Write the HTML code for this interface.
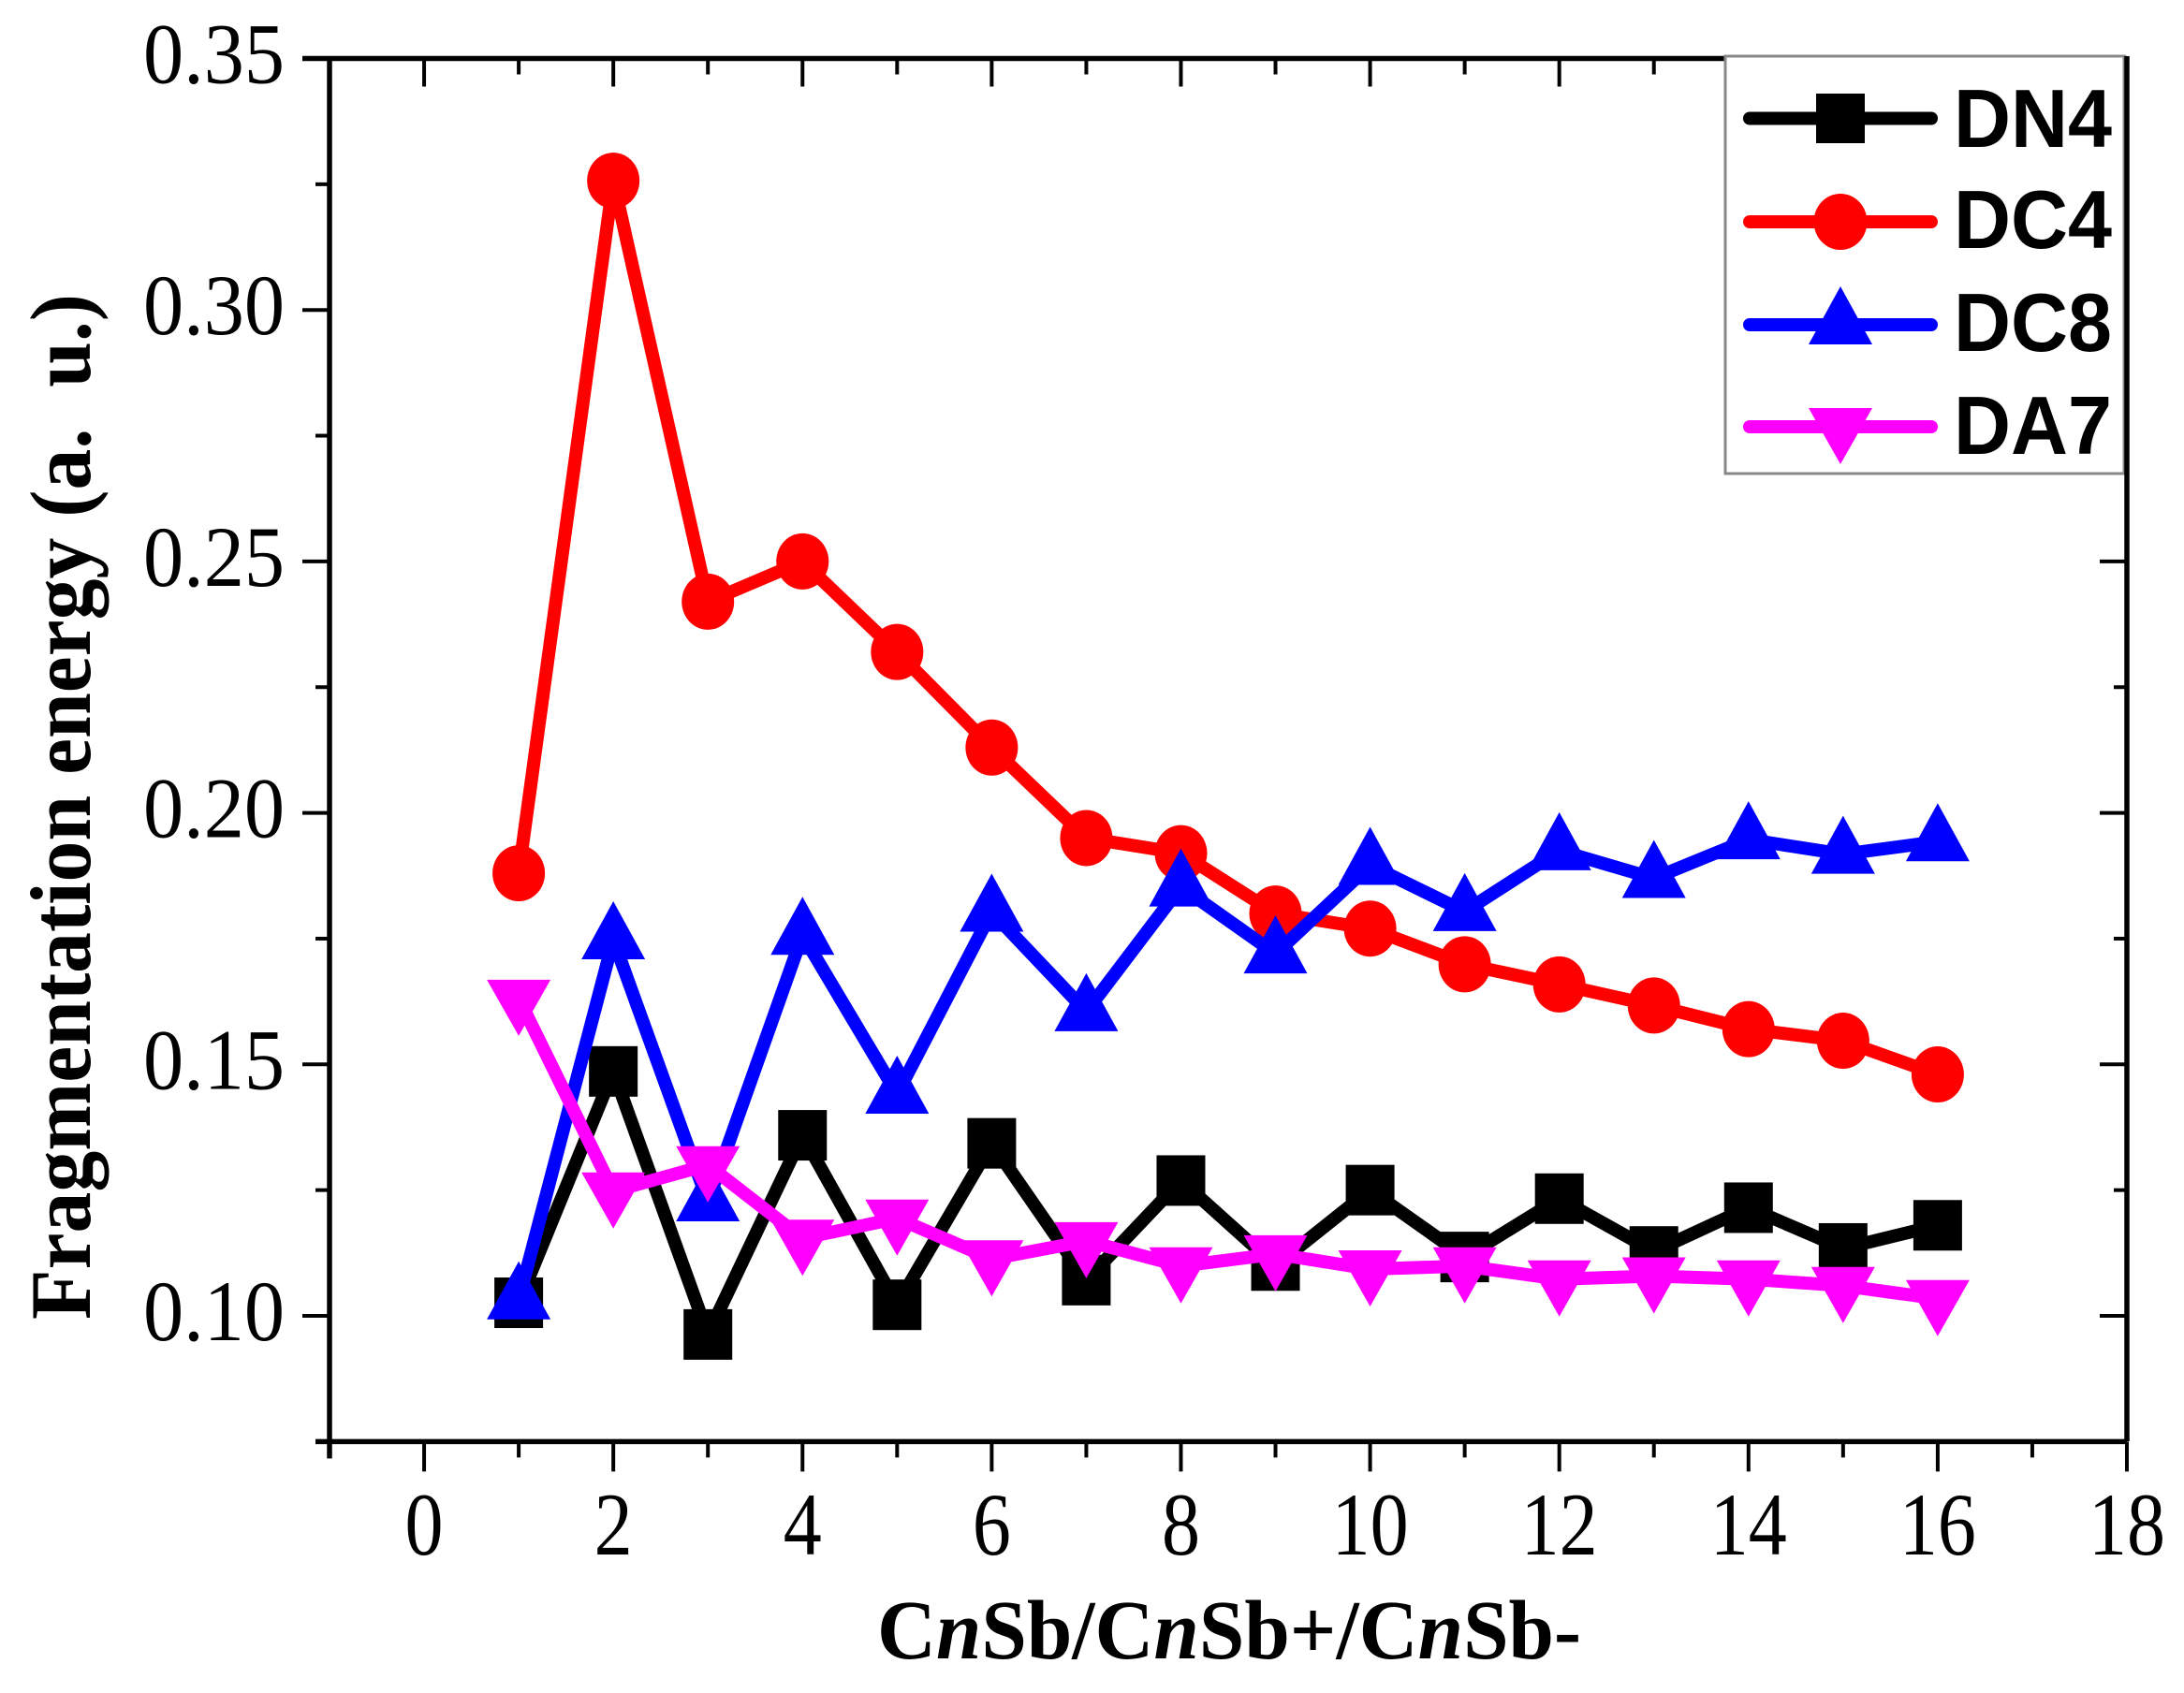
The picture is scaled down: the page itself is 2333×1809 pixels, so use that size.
<!DOCTYPE html>
<html lang="en">
<head>
<meta charset="utf-8">
<title>Fragmentation energy chart</title>
<style>
html,body{margin:0;padding:0;background:#fff;}
svg{display:block;}
text{fill:#000;}
.serif{font-family:"Liberation Serif",serif;}
.sans{font-family:"Liberation Sans",sans-serif;font-weight:bold;}
</style>
</head>
<body>
<svg id="chart" xmlns="http://www.w3.org/2000/svg" width="2333" height="1809" viewBox="0 0 2333 1809">
  <rect x="0" y="0" width="2333" height="1809" fill="#fff"/>
  <g id="axes"></g>
  <g id="plot"></g>
  <text class="serif" transform="translate(96,1410) rotate(-90)" font-size="92" font-weight="bold" textLength="1096" lengthAdjust="spacingAndGlyphs">Fragmentation energy (a.&#160; u.)</text>
  <text class="serif" x="937" y="1772" font-size="90" font-weight="bold" textLength="752" lengthAdjust="spacingAndGlyphs">C<tspan font-style="italic">n</tspan>Sb/C<tspan font-style="italic">n</tspan>Sb+/C<tspan font-style="italic">n</tspan>Sb-</text>
  <g>
    <rect x="1843" y="60" width="426" height="446" fill="#fff" stroke="#888" stroke-width="3"/>
    <g>
      <line x1="1869" y1="126.5" x2="2063" y2="126.5" stroke="#000" stroke-width="14" stroke-linecap="round"/>
      <rect x="1940" y="100" width="52" height="53" fill="#000"/>
      <text class="sans" x="2087" y="157" font-size="88" textLength="169" lengthAdjust="spacingAndGlyphs">DN4</text>
    </g>
    <g>
      <line x1="1869" y1="237" x2="2063" y2="237" stroke="#f00" stroke-width="14" stroke-linecap="round"/>
      <ellipse cx="1966" cy="237" rx="28.5" ry="30" fill="#f00"/>
      <text class="sans" x="2087" y="265" font-size="88" textLength="169" lengthAdjust="spacingAndGlyphs">DC4</text>
    </g>
    <g>
      <line x1="1869" y1="347" x2="2063" y2="347" stroke="#00f" stroke-width="14" stroke-linecap="round"/>
      <polygon points="1966,306 2000,368 1932,368" fill="#00f"/>
      <text class="sans" x="2087" y="375" font-size="88" textLength="169" lengthAdjust="spacingAndGlyphs">DC8</text>
    </g>
    <g>
      <line x1="1869" y1="456" x2="2063" y2="456" stroke="#f0f" stroke-width="14" stroke-linecap="round"/>
      <polygon points="1932,436 2000,436 1966,496" fill="#f0f"/>
      <text class="sans" x="2087" y="485" font-size="88" textLength="169" lengthAdjust="spacingAndGlyphs">DA7</text>
    </g>
  </g>
  <line x1="2272" y1="60" x2="2272" y2="1540" stroke="#000" stroke-width="5.5"/>
</svg>
<script>
var categories = [1,2,3,4,5,6,7,8,9,10,11,12,13,14,15,16];
var dn4Values = [0.1026,0.1486,0.0963,0.1359,0.1022,0.1343,0.1071,0.1269,0.1100,0.1250,0.1117,0.1233,0.1128,0.1215,0.1134,0.1180];
var dc4Values = [0.1880,0.3257,0.2420,0.2500,0.2320,0.2130,0.1950,0.1920,0.1800,0.1770,0.1699,0.1659,0.1617,0.1570,0.1547,0.1480];
var dc8Values = [0.1032,0.1748,0.1227,0.1757,0.1441,0.1803,0.1605,0.1853,0.1720,0.1896,0.1804,0.1925,0.1870,0.1947,0.1918,0.1943];
var da7Values = [0.1631,0.1248,0.1300,0.1154,0.1194,0.1113,0.1149,0.1099,0.1123,0.1093,0.1099,0.1073,0.1079,0.1073,0.1060,0.1034];
var xTickValues = [-1,0,1,2,3,4,5,6,7,8,9,10,11,12,13,14,15,16,17,18];
var xTickLabels = ['0','2','4','6','8','10','12','14','16','18'];
var xLabelValues = [0,2,4,6,8,10,12,14,16,18];
var yTickValues = [0.075,0.10,0.125,0.15,0.175,0.20,0.225,0.25,0.275,0.30,0.325,0.35];
var yTickLabels = ['0.10','0.15','0.20','0.25','0.30','0.35'];
var yLabelValues = [0.10,0.15,0.20,0.25,0.30,0.35];

function xScale(v){ return 352 + (v + 1) * (2272 - 352) / 19; }
function yScale(v){ return 1406 - (v - 0.10) * 5374; }

var NS = 'http://www.w3.org/2000/svg';
function shape(parent, tag, attrs){
  var el = document.createElementNS(NS, tag);
  for (var k in attrs) { el.setAttribute(k, attrs[k]); }
  parent.appendChild(el);
  return el;
}

var axes = document.getElementById('axes');
var plot = document.getElementById('plot');
var el;

el = shape(axes, 'line', {x1:323, y1:yScale(0.35), x2:2272, y2:yScale(0.35), stroke:'#000', 'stroke-width':5.5});


el = shape(axes, 'line', {x1:337, y1:yScale(0.075), x2:2272, y2:yScale(0.075), stroke:'#000', 'stroke-width':5.5});


el = shape(axes, 'line', {x1:352, y1:yScale(0.35), x2:352, y2:yScale(0.075) + 18, stroke:'#000', 'stroke-width':5.5});



xTickValues.forEach(function(v){
  var major = xLabelValues.indexOf(v) >= 0;
  var x = xScale(v);
  var e1 = shape(axes, 'line', {x1:x, y1:yScale(0.075), x2:x, y2:yScale(0.075) + (major ? 32 : 17), stroke:'#000', 'stroke-width':4});
  
  
  var e2 = shape(axes, 'line', {x1:x, y1:yScale(0.35), x2:x, y2:yScale(0.35) + (major ? 30 : 17), stroke:'#000', 'stroke-width':4});
  
  
});

yTickValues.forEach(function(v){
  var major = yLabelValues.some(function(m){ return Math.abs(m - v) < 1e-9; });
  var y = yScale(v);
  var e1 = shape(axes, 'line', {x1:major ? 323 : 337, y1:y, x2:352, y2:y, stroke:'#000', 'stroke-width':4});
  
  
  var e2 = shape(axes, 'line', {x1:2272, y1:y, x2:major ? 2243 : 2258, y2:y, stroke:'#000', 'stroke-width':4});
  
  
});

xLabelValues.forEach(function(v, i){
  var label = xTickLabels[i];
  var t = shape(axes, 'text', {x:xScale(v), y:1661, 'text-anchor':'middle', 'font-size':95, 'class':'serif', textLength:label.length * 41, lengthAdjust:'spacingAndGlyphs'});
  t.textContent = label;
  
  
});

yLabelValues.forEach(function(v, i){
  var t = shape(axes, 'text', {x:304, y:yScale(v) + 26, 'text-anchor':'end', 'font-size':92, 'class':'serif', textLength:151, lengthAdjust:'spacingAndGlyphs'});
  t.textContent = yTickLabels[i];
  
  
});

function drawLine(values, color, name){
  var pts = categories.map(function(c, i){ return xScale(c) + ',' + yScale(values[i]); }).join(' ');
  var p = shape(plot, 'polyline', {points:pts, fill:'none', stroke:color, 'stroke-width':14, 'stroke-linejoin':'round', 'stroke-linecap':'round'});
  
  
}

// DN4 – black squares
drawLine(dn4Values, '#000', 'dn4-line');
categories.forEach(function(c, i){
  var m = shape(plot, 'rect', {x:xScale(c) - 26, y:yScale(dn4Values[i]) - 27, width:52, height:54, fill:'#000'});
  
  
});

// DC4 – red circles
drawLine(dc4Values, '#f00', 'dc4-line');
categories.forEach(function(c, i){
  var m = shape(plot, 'ellipse', {cx:xScale(c), cy:yScale(dc4Values[i]), rx:28, ry:30, fill:'#f00'});
  
  
});

// DC8 – blue up triangles
drawLine(dc8Values, '#00f', 'dc8-line');
categories.forEach(function(c, i){
  var x = xScale(c), y = yScale(dc8Values[i]);
  var m = shape(plot, 'polygon', {points:x + ',' + (y - 41) + ' ' + (x + 34) + ',' + (y + 21) + ' ' + (x - 34) + ',' + (y + 21), fill:'#00f'});
  
  
});

// DA7 – magenta down triangles
drawLine(da7Values, '#f0f', 'da7-line');
categories.forEach(function(c, i){
  var x = xScale(c), y = yScale(da7Values[i]);
  var m = shape(plot, 'polygon', {points:(x - 34) + ',' + (y - 20) + ' ' + (x + 34) + ',' + (y - 20) + ' ' + x + ',' + (y + 40), fill:'#f0f'});
  
  
});
</script>
</body>
</html>
